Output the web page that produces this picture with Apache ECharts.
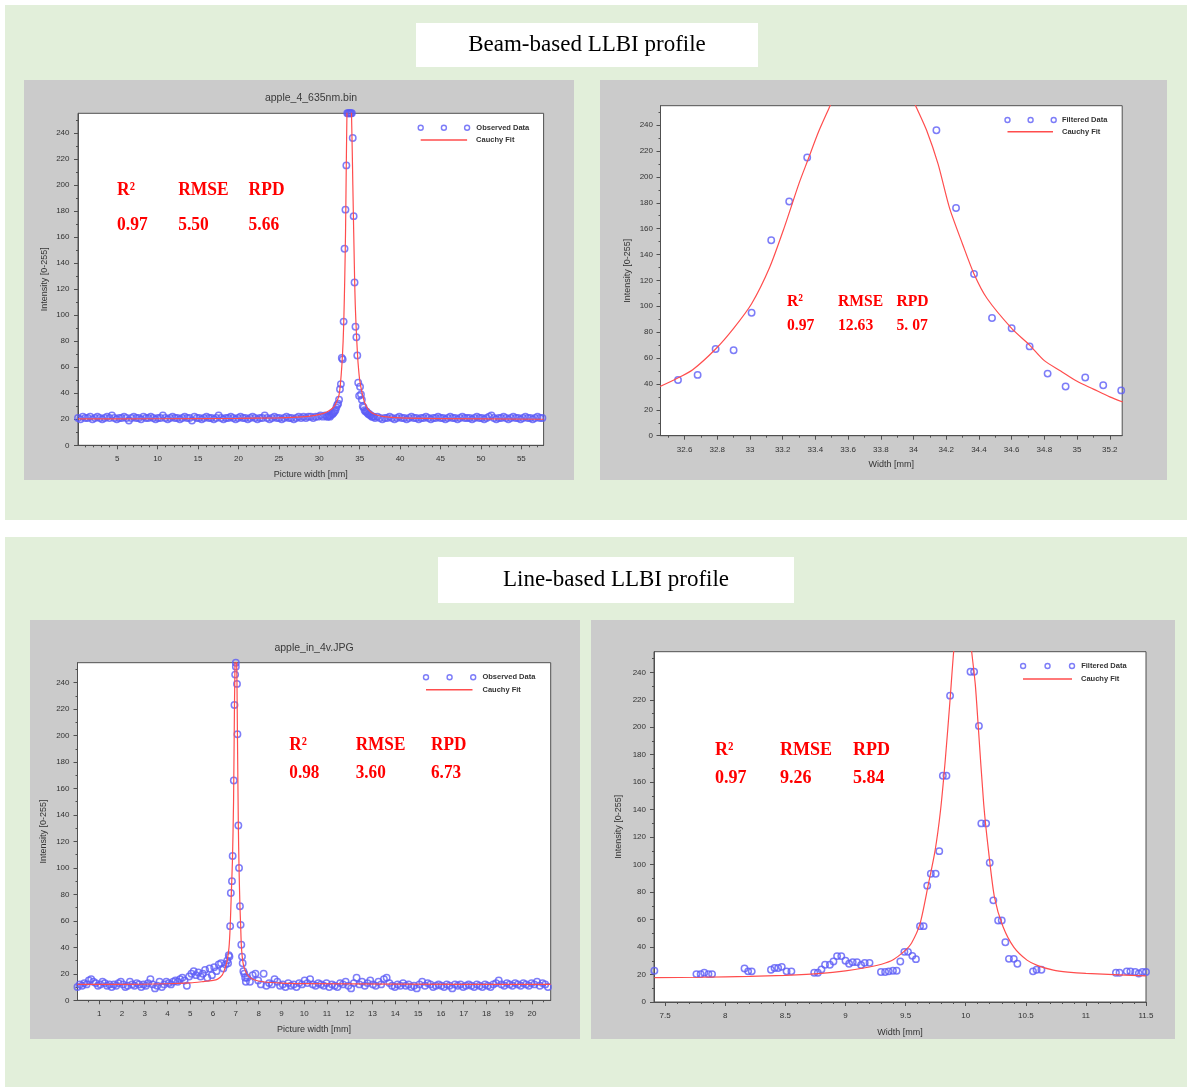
<!DOCTYPE html>
<html><head><meta charset="utf-8">
<script src="https://cdn.jsdelivr.net/npm/echarts@6/dist/echarts.min.js"></script>
<style>html,body{margin:0;padding:0;background:#fff}#c{width:1187px;height:1087px}</style>
</head><body><div id="c"></div>
<script>
// ---------------- DATA ----------------
const yTickLabels = [0,20,40,60,80,100,120,140,160,180,200,220,240];
const statHeads = ['R\u00b2','RMSE','RPD'];

// Chart 1 : apple_4_635nm.bin (observed data)
const c1Title = 'apple_4_635nm.bin';
const c1XTickLabels = [5,10,15,20,25,30,35,40,45,50,55];
const c1Stats = ['0.97','5.50','5.66'];
const c1BaseLeftStart = 0.15, c1BaseLeftStep = 0.3;
const c1BaseLeft = [21,20,22,21,21,22,20,21,22,21,
  20,21,22,21,23,21,20,21,21,22,
  21,19,21,22,21,21,20,22,21,21,
  22,21,20,21,21,23,21,20,21,22,
  21,21,20,21,22,21,21,19,22,21,
  21,20,21,22,21,21,20,21,23,21,
  20,21,21,22,21,20,21,22,21,21,
  20,21,22,21,20,21,21,23,21,20,
  21,22,21,21,20,21,22,21,21,20,
  21,22,21,22,21,22,22,21,22,22,
  23,22,23];
const c1PeakStart = 30.98, c1PeakStep = 0.1128;
const c1Peak = [22,22,23,22,23,24,24,25,26,27,29,31,32,
  35,43,47,67,66,95,151,181,215,
  255,255,255,255,255,255,
  236,176,125,91,83,69,48,38,45,39,35,
  30,29,27,26,26,25,24,24,23,23,22,22,22];
const c1BaseRightStart = 36.9, c1BaseRightStep = 0.3;
const c1BaseRight = [21,22,21,20,21,21,22,21,20,21,
  22,21,21,20,21,22,21,21,20,21,
  21,22,21,20,21,21,22,21,21,20,
  21,22,21,21,20,21,22,21,21,21,
  20,21,22,21,21,20,21,22,23,21,
  20,21,21,22,21,20,21,22,21,21,
  20,21,22,21,21,20,21,22,21,21];
const c1FitX = [0.15,10,20,25,28.3,29.5,30.5,31.2,31.8,32.2,32.45,32.6,32.8,32.95,33.05,33.15,33.25,33.33,33.4,33.45,33.68,33.95,34.0,34.08,34.15,34.22,34.3,34.37,34.45,34.6,34.71,34.8,35.0,35.3,35.6,36,36.5,37,38,40,45,57.75];
const c1FitY = [20.3,20.4,20.7,21.1,22,23,24.5,26.5,29.5,34,39,46,62,80,100,128,165,210,245,265,330,265,250,225,200,176,150,128,108,85,72,63,50,40,33,28,25,23.5,22,21,20.5,20];

// Chart 2 : zoom of chart 1 (filtered data)
const c2XTickLabels = [32.6,32.8,33,33.2,33.4,33.6,33.8,34,34.2,34.4,34.6,34.8,35,35.2];
const c2Stats = ['0.97','12.63','5. 07'];
const c2FiltX = [32.45,32.56,32.68,32.79,32.9,33.01,33.13,33.24,33.35,34.14,34.26,34.37,34.48,34.6,34.71,34.82,34.93,35.05,35.16,35.27];
const c2FiltY = [35,43,47,67,66,95,151,181,215,236,176,125,91,83,69,48,38,45,39,35];
const c2FitX = [32.45,32.55,32.65,32.79,32.9,33.01,33.12,33.21,33.3,33.354,33.42,33.49,33.75,34.013,34.08,34.15,34.22,34.3,34.37,34.45,34.6,34.71,34.8,34.9,35.0,35.1,35.2,35.28];
const c2FitY = [38,44,51,67,83,102,130,161,195,213,235,255,330,255,236,210,176,148,125,106,83,70,58,50,42,36,30,26];

// Chart 3 : apple_in_4v.JPG (observed data)
const c3Title = 'apple_in_4v.JPG';
const c3XTickLabels = [1,2,3,4,5,6,7,8,9,10,11,12,13,14,15,16,17,18,19,20];
const c3Stats = ['0.98','3.60','6.73'];
const c3BaseLeftStart = 0.05, c3BaseLeftStep = 0.1;
const c3BaseLeft = [10,12,11,13,12,15,16,14,13,11,
  12,14,13,11,12,10,12,11,13,14,
  12,10,11,14,12,11,13,12,10,12,
  11,13,16,12,9,11,14,10,12,14,
  13,12,14,15,14,16,17,15,11,18,
  20,22,19,21,18,20,23,17,24,19,
  25,22,27,28,24,27];
const c3PeakX = [6.62,6.66,6.69,6.72,6.75,6.78,6.83,6.86,6.91,6.94,6.97,7.0,7.0,7.05,7.07,7.11,7.14,7.18,7.21,7.24,7.27,7.30,7.33,7.37,7.41,7.44];
const c3PeakY = [30,28,34,33,56,81,90,109,166,223,246,252,255,239,201,132,100,71,57,42,33,28,22,20,17,14];
const c3BaseRightStart = 7.5, c3BaseRightStep = 0.12;
const c3BaseRight = [17,14,19,20,15,12,20,11,13,12,
  16,14,11,12,10,13,11,12,10,13,
  12,15,13,16,12,11,13,12,11,13,
  10,12,11,10,13,12,14,11,9,13,
  17,12,14,11,13,15,12,11,14,12,
  16,17,13,11,10,12,11,13,11,12,
  10,11,9,12,14,11,13,12,10,11,
  12,11,10,12,11,9,12,11,12,10,
  11,12,11,10,12,11,10,12,11,10,
  12,13,15,12,11,13,12,11,13,12,
  11,13,12,11,13,12,14,11,13,12,10];
const c3FitX = [0.05,2,4,5,5.5,6,6.2,6.4,6.52,6.62,6.7,6.75,6.8,6.85,6.9,6.94,6.97,7.0,7.03,7.05,7.07,7.11,7.14,7.18,7.21,7.24,7.28,7.33,7.4,7.5,7.6,7.8,8.2,9,10,14,20.82];
const c3FitY = [12,12,12.5,13.2,14,15,16,19,24,30,40,55,80,105,150,223,262,300,262,239,201,132,100,71,57,42,33,27,23,19.5,17.5,15.5,14,13,12.6,12.2,12];

// Chart 4 : zoom of chart 3 (filtered data)
const c4XTickLabels = [7.5,8,8.5,9,9.5,10,10.5,11,11.5];
const c4Stats = ['0.97','9.26','5.84'];
const c4FiltX = [7.41,7.76,7.795,7.825,7.86,7.89,8.16,8.19,8.22,8.38,8.41,8.44,8.47,8.51,8.55,8.74,8.77,8.80,8.83,8.87,8.90,8.93,8.965,9.0,9.03,9.06,9.096,9.13,9.16,9.2,9.295,9.33,9.36,9.395,9.426,9.456,9.49,9.52,9.556,9.586,9.62,9.65,9.68,9.71,9.75,9.78,9.81,9.84,9.87,10.04,10.07,10.11,10.13,10.17,10.2,10.23,10.27,10.3,10.33,10.36,10.4,10.43,10.56,10.59,10.63,11.25,11.28,11.34,11.37,11.41,11.44,11.47,11.5];
const c4FiltY = [22.7,20.3,20.3,21.3,20.3,20.3,24.4,22.3,22.3,23.5,24.7,24.7,25.6,22.3,22.3,21.3,21.3,23.7,27.1,27.1,29.5,33.4,33.4,30,27.8,29,29,26.9,28.5,28.5,21.8,21.8,22.3,22.7,22.7,29.5,36.5,36.5,33.6,31.2,55.2,55.2,84.7,93.4,93.4,109.8,164.7,164.7,223,240.4,240.4,201,130,130,101.4,74,59.3,59.3,43.5,31.4,31.4,27.8,22.3,23.5,23.5,21.3,21.3,22.3,22.3,21.8,20.8,21.8,21.8];
const c4FitX = [7.41,7.8,8.2,8.5,8.8,9.0,9.2,9.3,9.4,9.49,9.55,9.62,9.69,9.745,9.79,9.83,9.87,9.9,9.975,10.05,10.08,10.105,10.15,10.19,10.24,10.31,10.4,10.51,10.6,10.73,10.85,11.0,11.28,11.5];
const c4FitY = [17.7,18,18.6,19.4,20.8,22.7,25.5,27.5,31,37,43,57,86,110,139,176,220,255,320,255,231,200,144,110,76,55,40,30.5,26.5,23.2,21.8,20.8,19.8,19];

// ---------------- HELPERS ----------------
const SANS = "'Liberation Sans', Arial, sans-serif";
const SERIF = "'Liberation Serif', 'Times New Roman', serif";
const BLUE = '#5c5cf6', RED = '#ff4d4d', AX = '#505050', GREEN = '#e2efda', GRAY = '#cbcbcb';
function seq(start, step, vals) { return vals.map((v, i) => [+(start + i * step).toFixed(4), v]); }
function pairs(xs, ys) { return xs.map((x, i) => [x, ys[i]]); }
function minors(from, to, step, ratio) {
  const out = [];
  for (let k = Math.ceil(from / step - 1e-9); k * step <= to + 1e-9; k++) {
    if (k % ratio !== 0) out.push(+(k * step).toFixed(4));
  }
  return out;
}
function ringPath(sp) {
  const R = 3.2, r = 1.8; let d = '';
  for (let k = 0; k < 3; k++) {
    const cx = R + k * sp, cy = R;
    d += `M${cx - R},${cy}A${R},${R} 0 1 1 ${cx + R},${cy}A${R},${R} 0 1 1 ${cx - R},${cy}Z`;
    d += `M${cx - r},${cy}A${r},${r} 0 1 0 ${cx + r},${cy}A${r},${r} 0 1 0 ${cx - r},${cy}Z`;
  }
  return 'path://' + d;
}
const fmt = v => String(Math.round(v * 1000) / 1000);

const panels = [
  { grid: {left: 78, top: 113.3, width: 465.6, height: 332}, xmin: 0.15, xmax: 57.75,
    xTicks: c1XTickLabels, xMinor: minors(0.15, 57.75, 1, 5), xName: 'Picture width [mm]',
    xMargin: 9, xNameGap: 24.5, yNameGap: 29, yMargin: 8.5,
    obs: seq(c1BaseLeftStart, c1BaseLeftStep, c1BaseLeft).concat(seq(c1PeakStart, c1PeakStep, c1Peak), seq(c1BaseRightStart, c1BaseRightStep, c1BaseRight)),
    obsName: 'Observed Data', fit: pairs(c1FitX, c1FitY),
    lg: {rl: 417.5, rt: 123.2, sp: 23.2, ll: 420.7, lt: 135.5, lw: 46.4, pad: 4, ringPad: 1},
    st: {vals: c1Stats, x: [117.1, 178.2, 248.6], y: [190.3, 225.5], fs: 19, sx: 0.92} },
  { grid: {left: 660.5, top: 105.7, width: 461.7, height: 330}, xmin: 32.453, xmax: 35.276,
    xTicks: c2XTickLabels, xMinor: minors(32.453, 35.276, 0.1, 2), xName: 'Width [mm]',
    xMargin: 9.6, xNameGap: 24, yNameGap: 28.5, yMargin: 7.5,
    obs: pairs(c2FiltX, c2FiltY), obsName: 'Filtered Data', fit: pairs(c2FitX, c2FitY),
    lg: {rl: 1004.3, rt: 115.5, sp: 23.1, ll: 1007.5, lt: 127.2, lw: 45.5, pad: 4, ringPad: 0},
    st: {vals: c2Stats, x: [787, 838, 896.5], y: [301, 325], fs: 17.6, sx: 0.89} },
  { grid: {left: 77.5, top: 662.7, width: 473.2, height: 337.6}, xmin: 0.05, xmax: 20.82,
    xTicks: c3XTickLabels, xMinor: minors(0.05, 20.82, 0.5, 2), xName: 'Picture width [mm]',
    xMargin: 9, xNameGap: 24.5, yNameGap: 29.5, yMargin: 8,
    obs: seq(c3BaseLeftStart, c3BaseLeftStep, c3BaseLeft).concat(pairs(c3PeakX, c3PeakY), seq(c3BaseRightStart, c3BaseRightStep, c3BaseRight)),
    obsName: 'Observed Data', fit: pairs(c3FitX, c3FitY),
    lg: {rl: 422.8, rt: 672.8, sp: 23.6, ll: 426, lt: 685.2, lw: 46.5, pad: 5, ringPad: 1},
    st: {vals: c3Stats, x: [289.3, 355.7, 431], y: [745.3, 773], fs: 19, sx: 0.905} },
  { grid: {left: 654, top: 651.7, width: 492, height: 350.3}, xmin: 7.407, xmax: 11.5,
    xTicks: c4XTickLabels, xMinor: minors(7.407, 11.5, 0.1, 5), xName: 'Width [mm]',
    xMargin: 10, xNameGap: 26, yNameGap: 30.5, yMargin: 8,
    obs: pairs(c4FiltX, c4FiltY), obsName: 'Filtered Data', fit: pairs(c4FitX, c4FitY),
    lg: {rl: 1019.9, rt: 661.5, sp: 24.45, ll: 1023, lt: 674.5, lw: 49, pad: 4, ringPad: 1},
    st: {vals: c4Stats, x: [715, 780, 853], y: [749.6, 778.3], fs: 19, sx: 0.95} }
];

const grids = [], xAxes = [], yAxes = [], legends = [], series = [];
const graphics = [
  {type: 'rect', z: -20, shape: {x: 5, y: 5, width: 1182, height: 515}, style: {fill: GREEN}},
  {type: 'rect', z: -20, shape: {x: 5, y: 537, width: 1182, height: 550}, style: {fill: GREEN}},
  {type: 'rect', z: -19, shape: {x: 416, y: 23, width: 342, height: 44}, style: {fill: '#fff'}},
  {type: 'rect', z: -19, shape: {x: 438, y: 557, width: 356, height: 46}, style: {fill: '#fff'}},
  {type: 'rect', z: -19, shape: {x: 24, y: 80, width: 550, height: 400}, style: {fill: GRAY}},
  {type: 'rect', z: -19, shape: {x: 600, y: 80, width: 567, height: 400}, style: {fill: GRAY}},
  {type: 'rect', z: -19, shape: {x: 30, y: 620, width: 550, height: 419}, style: {fill: GRAY}},
  {type: 'rect', z: -19, shape: {x: 591, y: 620, width: 584, height: 419}, style: {fill: GRAY}},
  {type: 'text', z: 50, x: 587, y: 45, style: {text: 'Beam-based LLBI profile', fontSize: 23, fontFamily: SERIF, fill: '#000', align: 'center', verticalAlign: 'middle', textAlign: 'center', textVerticalAlign: 'middle'}},
  {type: 'text', z: 50, x: 616, y: 580, style: {text: 'Line-based LLBI profile', fontSize: 23, fontFamily: SERIF, fill: '#000', align: 'center', verticalAlign: 'middle', textAlign: 'center', textVerticalAlign: 'middle'}},
  {type: 'text', z: 50, x: 311, y: 98.3, style: {text: c1Title, fontSize: 10.5, fontFamily: SANS, fill: '#3a3a3a', align: 'center', verticalAlign: 'middle', textAlign: 'center', textVerticalAlign: 'middle'}},
  {type: 'text', z: 50, x: 314, y: 647.7, style: {text: c3Title, fontSize: 10.5, fontFamily: SANS, fill: '#3a3a3a', align: 'center', verticalAlign: 'middle', textAlign: 'center', textVerticalAlign: 'middle'}}
];

panels.forEach((p, i) => {
  grids.push(Object.assign({show: true, backgroundColor: '#fff', borderColor: AX, borderWidth: 1, containLabel: false, outerBoundsMode: 'none'}, p.grid));
  const nameStyle = {fontSize: 9, color: '#333', fontFamily: SANS};
  xAxes.push({gridIndex: i, type: 'value', min: p.xmin, max: p.xmax, position: 'bottom',
    axisLine: {show: true, onZero: false, lineStyle: {color: AX, width: 1}},
    axisTick: {show: true, customValues: p.xTicks, length: 4, inside: false, lineStyle: {color: AX}},
    axisLabel: {show: true, customValues: p.xTicks, formatter: fmt, fontSize: 8, color: '#333', fontFamily: SANS, margin: p.xMargin},
    splitLine: {show: false}, minorTick: {show: false},
    name: p.xName, nameLocation: 'middle', nameGap: p.xNameGap, nameTextStyle: nameStyle});
  xAxes.push({gridIndex: i, type: 'value', min: p.xmin, max: p.xmax, position: 'bottom',
    axisLine: {show: false, onZero: false},
    axisTick: {show: true, customValues: p.xMinor, length: 2, inside: false, lineStyle: {color: AX}},
    axisLabel: {show: false}, splitLine: {show: false}});
  yAxes.push({gridIndex: i, type: 'value', min: 0, max: 255, position: 'left',
    axisLine: {show: true, onZero: false, lineStyle: {color: AX, width: 1}},
    axisTick: {show: true, customValues: yTickLabels, length: 4, inside: false, lineStyle: {color: AX}},
    axisLabel: {show: true, customValues: yTickLabels, formatter: fmt, fontSize: 8, color: '#333', fontFamily: SANS, margin: p.yMargin},
    splitLine: {show: false},
    name: 'Intensity [0-255]', nameLocation: 'middle', nameGap: p.yNameGap, nameTextStyle: nameStyle});
  yAxes.push({gridIndex: i, type: 'value', min: 0, max: 255, position: 'left',
    axisLine: {show: false, onZero: false},
    axisTick: {show: true, customValues: minors(0, 255, 10, 2), length: 2, inside: false, lineStyle: {color: AX}},
    axisLabel: {show: false}, splitLine: {show: false}});

  series.push({type: 'scatter', name: p.obsName, xAxisIndex: 2 * i, yAxisIndex: 2 * i, data: p.obs,
    symbol: 'circle', symbolSize: 6.4, clip: true,
    itemStyle: {color: 'rgba(0,0,0,0)', borderColor: BLUE, borderWidth: 1.5}, z: 2});
  series.push({type: 'line', name: 'Cauchy Fit', xAxisIndex: 2 * i, yAxisIndex: 2 * i, data: p.fit,
    symbol: 'none', showSymbol: false, smooth: 0.25, clip: true,
    lineStyle: {color: RED, width: 1.2}, itemStyle: {color: RED}, z: 3});

  const lgText = {fontSize: 7.5, fontWeight: 'bold', color: '#333', fontFamily: SANS, lineHeight: 9};
  const rw = 2 * p.lg.sp + 6.4;
  legends.push({left: p.lg.rl, top: p.lg.rt, padding: 0, itemGap: 0, itemWidth: rw, itemHeight: 6.4,
    selectedMode: false, orient: 'horizontal',
    data: [{name: p.obsName, icon: ringPath(p.lg.sp), itemStyle: {color: BLUE, borderWidth: 0}}],
    textStyle: Object.assign({padding: [0, 0, 0, p.lg.ringPad]}, lgText)});
  legends.push({left: p.lg.ll, top: p.lg.lt, padding: 0, itemGap: 0, itemWidth: p.lg.lw, itemHeight: 1.4,
    selectedMode: false, orient: 'horizontal',
    data: [{name: 'Cauchy Fit', icon: 'rect', itemStyle: {color: RED, borderWidth: 0}}],
    textStyle: Object.assign({padding: [0, 0, 0, p.lg.pad]}, lgText)});

  for (let r = 0; r < 2; r++) {
    const texts = r === 0 ? statHeads : p.st.vals;
    texts.forEach((t, k) => {
      graphics.push({type: 'text', z: 60, x: p.st.x[k], y: p.st.y[r], scaleX: p.st.sx,
        style: {text: t, fontSize: p.st.fs, fontWeight: 'bold', fontFamily: SERIF, fill: '#ff0000',
          align: 'left', verticalAlign: 'middle', textAlign: 'left', textVerticalAlign: 'middle'}});
    });
  }
});

const chart = echarts.init(document.getElementById('c'), null, {renderer: 'canvas', width: 1187, height: 1087});
chart.setOption({
  animation: false,
  backgroundColor: '#ffffff',
  graphic: {elements: graphics},
  grid: grids, xAxis: xAxes, yAxis: yAxes, legend: legends, series: series
});
</script></body></html>
